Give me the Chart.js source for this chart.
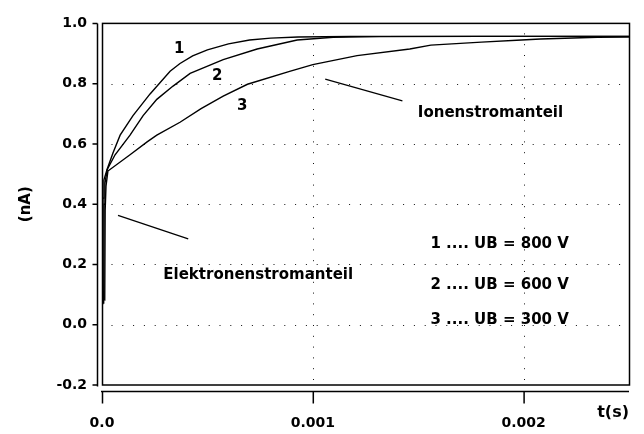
<!DOCTYPE html>
<html>
<head>
<meta charset="utf-8">
<script src="https://cdn.jsdelivr.net/npm/chart.js@4/dist/chart.umd.min.js"></script>
<style>
  html, body { margin: 0; padding: 0; background: #fff; }
  canvas { display: block; }
</style>
</head>
<body>
<canvas id="chart" width="644" height="434"></canvas>
<script>
// Axis ticks and labels
const xTicks = [0, 0.001, 0.002];
const xTickLabels = ['0.0', '0.001', '0.002'];
const yTicks = [-0.2, 0.0, 0.2, 0.4, 0.6, 0.8, 1.0];
const yTickLabels = ['-0.2', '0.0', '0.2', '0.4', '0.6', '0.8', '1.0'];
const gridY = [0.0, 0.2, 0.4, 0.6, 0.8];
const gridX = [0.001, 0.002];

// Curve 1: UB = 800 V  (time in s, current in nA)
const t800 = [3e-6, 5e-6, 9e-6, 2.4e-5, 5.2e-5, 8.6e-5, 1.47e-4, 2.28e-4, 3.23e-4, 3.7e-4, 4.3e-4, 5.0e-4, 6.0e-4, 7.0e-4, 8.0e-4, 9.3e-4, 1.18e-3, 1.6e-3, 2.5e-3];
const i800 = [0.067, 0.42, 0.48, 0.515, 0.57, 0.629, 0.694, 0.766, 0.841, 0.867, 0.892, 0.912, 0.932, 0.945, 0.951, 0.955, 0.957, 0.957, 0.957];

// Curve 2: UB = 600 V
const t600 = [8e-6, 1e-5, 1.4e-5, 2.5e-5, 6.2e-5, 1.33e-4, 1.95e-4, 2.6e-4, 3.37e-4, 4.18e-4, 5.75e-4, 7.36e-4, 9.26e-4, 1.097e-3, 1.32e-3, 1.8e-3, 2.5e-3];
const i600 = [0.07, 0.40, 0.47, 0.515, 0.564, 0.629, 0.694, 0.748, 0.792, 0.834, 0.880, 0.915, 0.945, 0.954, 0.956, 0.957, 0.957];

// Curve 3: UB = 300 V
const t300 = [1.3e-5, 1.5e-5, 1.9e-5, 2.8e-5, 1.33e-4, 2.14e-4, 2.6e-4, 3.7e-4, 4.7e-4, 5.75e-4, 6.9e-4, 8.9e-4, 1.0e-3, 1.21e-3, 1.46e-3, 1.56e-3, 1.8e-3, 1.99e-3, 2.08e-3, 2.35e-3, 2.5e-3];
const i300 = [0.08, 0.38, 0.46, 0.51, 0.564, 0.607, 0.629, 0.672, 0.717, 0.759, 0.798, 0.841, 0.863, 0.893, 0.915, 0.928, 0.938, 0.945, 0.948, 0.954, 0.955];

// Text annotations placed in data coordinates
const curveLabels = [
  { text: '1', t: 3.66e-4, v: 0.915 },
  { text: '2', t: 5.46e-4, v: 0.824 },
  { text: '3', t: 6.65e-4, v: 0.727 }
];
const noteLabels = [
  { text: 'Ionenstromanteil', t: 1.843e-3, v: 0.701 },
  { text: 'Elektronenstromanteil', t: 7.41e-4, v: 0.164 }
];
const pointerLines = [
  { t1: 1.059e-3, v1: 0.815, t2: 1.425e-3, v2: 0.743 },
  { t1: 7.6e-5, v1: 0.363, t2: 4.09e-4, v2: 0.285 }
];
const voltageLines = [
  { text: '1 .... UB = 800 V', t: 1.558e-3, v: 0.268 },
  { text: '2 .... UB = 600 V', t: 1.558e-3, v: 0.132 },
  { text: '3 .... UB = 300 V', t: 1.558e-3, v: 0.015 }
];

const FONT = '"DejaVu Sans", "Liberation Sans", sans-serif';
Chart.defaults.color = '#000';
Chart.defaults.font.family = FONT;

const toPoints = (ts, vs) => ts.map((t, k) => ({ x: t, y: vs[k] }));

const curveStyle = {
  showLine: true,
  borderColor: '#000',
  borderWidth: 1.4,
  pointRadius: 0,
  tension: 0,
  fill: false
};

const decorations = {
  id: 'decorations',
  beforeDatasetsDraw(chart) {
    const { ctx, chartArea: a, scales: { x, y } } = chart;
    ctx.save();
    ctx.strokeStyle = '#111';
    ctx.lineWidth = 1;
    ctx.setLineDash([1, 9.8]);
    gridY.forEach(v => {
      const py = Math.round(y.getPixelForValue(v)) + 0.5;
      ctx.beginPath();
      ctx.moveTo(a.left + 9.5, py);
      ctx.lineTo(a.right, py);
      ctx.stroke();
    });
    gridX.forEach(v => {
      const px = Math.round(x.getPixelForValue(v)) + 0.5;
      ctx.beginPath();
      ctx.moveTo(px, a.top + 10);
      ctx.lineTo(px, a.bottom);
      ctx.stroke();
    });
    ctx.restore();
  },
  afterDatasetsDraw(chart) {
    const { ctx, chartArea: a, scales: { x, y } } = chart;
    ctx.save();
    ctx.strokeStyle = '#000';
    // plot frame
    ctx.lineWidth = 1.5;
    ctx.strokeRect(a.left + 0.5, a.top, a.right - a.left, a.bottom - a.top);

    // detached y axis with outward ticks
    const ax = a.left - 4.5;
    ctx.beginPath();
    ctx.moveTo(ax, a.top);
    ctx.lineTo(ax, a.bottom + 1.5);
    yTicks.forEach(v => {
      const py = y.getPixelForValue(v);
      ctx.moveTo(ax, py);
      ctx.lineTo(ax - 5, py);
    });
    ctx.stroke();

    // detached x axis with downward ticks
    const ay = a.bottom + 6.5;
    ctx.beginPath();
    ctx.moveTo(a.left - 1, ay);
    ctx.lineTo(a.right, ay);
    xTicks.forEach(v => {
      const px = x.getPixelForValue(v) + 0.5;
      ctx.moveTo(px, ay);
      ctx.lineTo(px, ay + 12);
    });
    ctx.stroke();

    // pointer lines
    ctx.lineWidth = 1.2;
    pointerLines.forEach(p => {
      ctx.beginPath();
      ctx.moveTo(x.getPixelForValue(p.t1), y.getPixelForValue(p.v1));
      ctx.lineTo(x.getPixelForValue(p.t2), y.getPixelForValue(p.v2));
      ctx.stroke();
    });

    // texts
    ctx.fillStyle = '#000';
    ctx.font = 'bold 15px ' + FONT;
    ctx.textBaseline = 'middle';
    ctx.textAlign = 'center';
    curveLabels.concat(noteLabels).forEach(l => {
      ctx.fillText(l.text, x.getPixelForValue(l.t), y.getPixelForValue(l.v));
    });
    ctx.textAlign = 'left';
    voltageLines.forEach(l => {
      ctx.fillText(l.text, x.getPixelForValue(l.t), y.getPixelForValue(l.v));
    });
    ctx.restore();
  }
};

new Chart(document.getElementById('chart'), {
  type: 'scatter',
  data: {
    datasets: [
      Object.assign({ label: 'UB = 800 V', data: toPoints(t800, i800) }, curveStyle),
      Object.assign({ label: 'UB = 600 V', data: toPoints(t600, i600) }, curveStyle),
      Object.assign({ label: 'UB = 300 V', data: toPoints(t300, i300) }, curveStyle)
    ]
  },
  options: {
    responsive: false,
    animation: false,
    layout: { padding: { top: 16, right: 15, left: 0, bottom: 0 } },
    plugins: { legend: { display: false }, tooltip: { enabled: false } },
    scales: {
      x: {
        type: 'linear',
        min: 0,
        max: 0.0025,
        afterBuildTicks: s => { s.ticks = xTicks.map(v => ({ value: v })); },
        afterFit: s => { s.height = 49; },
        grid: { display: false, drawTicks: false },
        border: { display: false },
        ticks: {
          autoSkip: false,
          maxRotation: 0,
          padding: 30,
          font: { size: 14, weight: 'bold' },
          callback: (v, i) => xTickLabels[i]
        },
        title: {
          display: true,
          text: 't(s)',
          align: 'end',
          font: { size: 16, weight: 'bold' },
          padding: { top: 0, bottom: 12 }
        }
      },
      y: {
        type: 'linear',
        min: -0.2,
        max: 1.0,
        afterBuildTicks: s => { s.ticks = yTicks.map(v => ({ value: v })); },
        afterFit: s => { s.width = 102; },
        grid: { display: false, drawTicks: false },
        border: { display: false },
        ticks: {
          autoSkip: false,
          padding: 15,
          font: { size: 14, weight: 'bold' },
          callback: (v, i) => yTickLabels[i]
        },
        title: {
          display: true,
          text: '(nA)',
          font: { size: 15, weight: 'bold' },
          padding: { top: 17, bottom: 0 }
        }
      }
    }
  },
  plugins: [decorations]
});
</script>
</body>
</html>
